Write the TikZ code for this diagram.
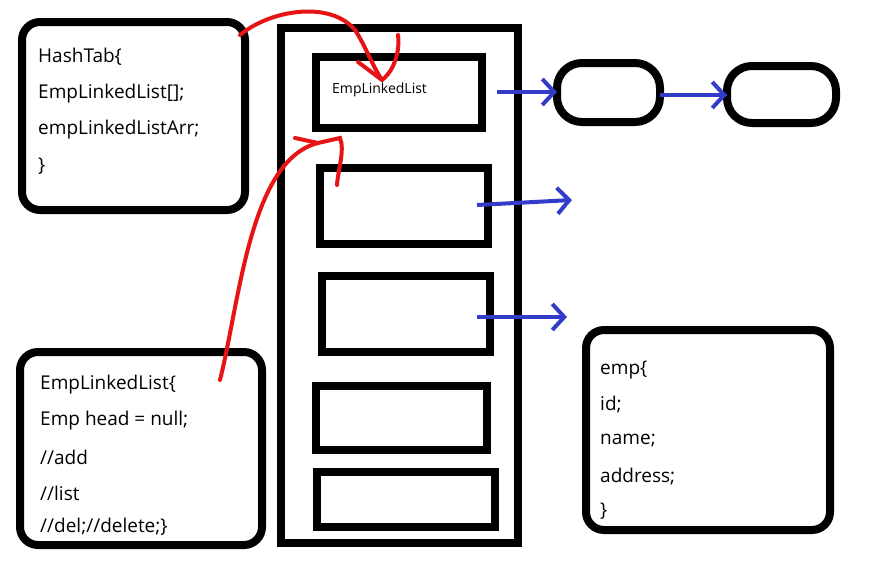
\documentclass[tikz,border=0pt]{standalone}
\usepackage{fontspec}
\setmainfont{Open Sans}
\usetikzlibrary{arrows.meta}
\begin{document}
\begin{tikzpicture}[x=1pt,y=-1pt,
  box/.style={draw=black,line width=8pt,rounded corners=18pt},
  slot/.style={draw=black,line width=8pt},
  blu/.style={draw={rgb,255:red,50;green,60;blue,200},line width=4pt,-{Straight Barb[length=12pt,width=26pt,line width=4pt]}},
  red/.style={draw={rgb,255:red,230;green,20;blue,20},line width=4pt,line cap=round},
  txt/.style={anchor=west,font=\fontsize{19}{19}\selectfont,inner sep=0pt}]
\useasboundingbox (0,0) rectangle (887,562);
\node[box,minimum width=223pt,minimum height=188pt] (hash) at (133.5,116) {};
\node[box,minimum width=242pt,minimum height=193pt] (ell) at (141,448.5) {};
\node[slot,minimum width=237pt,minimum height=515pt] (tab) at (399.5,285.5) {};
\node[slot,minimum width=166pt,minimum height=71pt] (s1) at (399,92.5) {};
\node[slot,minimum width=168pt,minimum height=76pt] (s2) at (404,206) {};
\node[slot,minimum width=168pt,minimum height=76pt] (s3) at (406,314) {};
\node[slot,minimum width=171pt,minimum height=64pt] (s4) at (401.5,418) {};
\node[slot,minimum width=178pt,minimum height=55pt] (s5) at (406,499.5) {};
\node[box,minimum width=103pt,minimum height=59pt,rounded corners=25pt] (n1) at (608.5,92.5) {};
\node[box,minimum width=109pt,minimum height=57pt,rounded corners=25pt] (n2) at (781.5,94.5) {};
\node[box,minimum width=244pt,minimum height=200pt] (emp) at (708,430) {};
\node[txt,font=\fontsize{14}{14}\selectfont] (lbl) at (332,90) {EmpLinkedList};
\node[txt] (h1) at (38,57) {HashTab\{};
\node[txt] (h2) at (38,94) {EmpLinkedList[];};
\node[txt] (h3) at (38,130) {empLinkedListArr;};
\node[txt] (h4) at (38,166) {\}};
\node[txt] (e1) at (40,385) {EmpLinkedList\{};
\node[txt] (e2) at (40,421) {Emp head = null;};
\node[txt] (e3) at (40,457) {//add};
\node[txt] (e4) at (40,493) {//list};
\node[txt] (e5) at (40,527) {//del;//delete;\}};
\node[txt] (m1) at (600,370) {emp\{};
\node[txt] (m2) at (600,405) {id;};
\node[txt] (m3) at (600,441) {name;};
\node[txt] (m4) at (600,477) {address;};
\node[txt] (m5) at (600,511) {\}};
\coordinate (a1) at (497,92); \coordinate (a2) at (557,92);
\coordinate (b1) at (660,95); \coordinate (b2) at (727,95);
\coordinate (c1) at (477,205); \coordinate (c2) at (572,200);
\coordinate (d1) at (477,317); \coordinate (d2) at (567,317);
\draw[blu] (a1) -- (a2);
\draw[blu] (b1) -- (b2);
\draw[blu] (c1) -- (c2);
\draw[blu] (d1) -- (d2);
\coordinate (r1) at (240,35); \coordinate (r2) at (382,80);
\draw[red] (r1) .. controls (270,10) and (330,0) .. (355,30) .. controls (365,45) and (372,65) .. (r2);
\draw[red] (r2) -- (358,62) (r2) .. controls (395,70) and (400,50) .. (398,35);
\coordinate (q1) at (220,380); \coordinate (q2) at (337,185);
\draw[red] (q1) .. controls (240,300) and (250,160) .. (318,143);
\draw[red] (295,138) -- (318,143) -- (340,138) .. controls (345,150) and (338,170) .. (q2);
\end{tikzpicture}
\end{document}
